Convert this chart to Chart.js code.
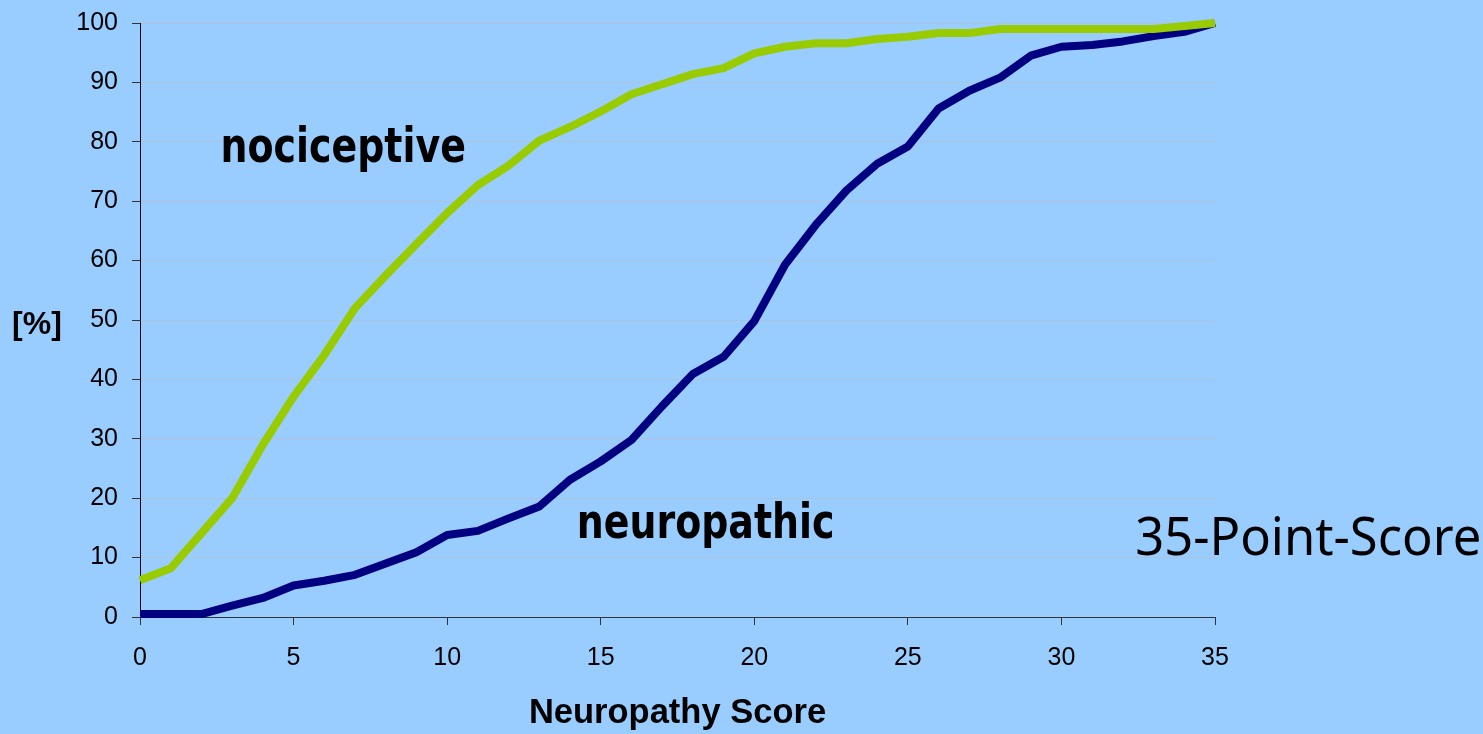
<!DOCTYPE html>
<html lang="en">
<head>
  <meta charset="UTF-8" />
  <title>Neuropathy Score</title>
  <script src="https://cdn.jsdelivr.net/npm/chart.js"></script>
  <style>
    html, body {
      margin: 0;
      background: #99ccff;
      overflow: hidden;
    }

    .wrap {
      width: 1483px;
      height: 734px;
    }
  </style>
</head>
<body>
  <div class="wrap">
    <canvas id="scoreChart"></canvas>
  </div>

  <script>
    // values (cumulative %, per score point)
    const scores = [0, 1, 2, 3, 4, 5, 6, 7, 8, 9, 10, 11, 12, 13, 14, 15, 16, 17,
      18, 19, 20, 21, 22, 23, 24, 25, 26, 27, 28, 29, 30, 31, 32, 33, 34, 35];
    const nociceptive = [6.2, 8.2, 14.1, 20.0, 29.0, 37.1, 44.1, 52.0, 57.5, 62.8,
      68.0, 72.7, 76.0, 80.2, 82.5, 85.1, 88.0, 89.7, 91.4, 92.4, 94.9, 96.0,
      96.6, 96.6, 97.3, 97.7, 98.3, 98.3, 99.0, 99.0, 99.0, 99.0, 99.0, 99.0, 99.5, 100];
    const neuropathic = [0.5, 0.5, 0.5, 1.9, 3.2, 5.3, 6.1, 7.1, 9.0, 10.9,
      13.8, 14.5, 16.6, 18.6, 23.1, 26.2, 29.8, 35.5, 40.9, 43.8, 49.8, 59.3,
      66.0, 71.8, 76.3, 79.2, 85.6, 88.6, 90.8, 94.5, 96.0, 96.3, 96.9, 97.8, 98.5, 100];
    const xTicks = [0, 5, 10, 15, 20, 25, 30, 35];
    const yTicks = [0, 10, 20, 30, 40, 50, 60, 70, 80, 90, 100];

    // text placed in data units: [text, x, y, font, x-stretch]
    const notes = [
      ['nociceptive', 2.62, 76.6, 'bold 48px "DejaVu Sans"', 0.79],
      ['neuropathic', 14.22, 13.3, 'bold 48px "DejaVu Sans"', 0.79],
      ['35-Point-Score', 32.4, 10.4, '52px "Noto Sans"', 0.975]
    ];

    const toPoints = (arr) => arr.map((v, i) => ({ x: scores[i], y: v }));

    const textPlugin = {
      id: 'texts',
      afterDraw(chart) {
        const c = chart.ctx;
        const xs = chart.scales.x;
        const ys = chart.scales.y;
        c.save();
        c.fillStyle = '#000';
        c.textBaseline = 'alphabetic';
        c.textAlign = 'left';
        notes.forEach(([txt, x, y, font, sx]) => {
          c.save();
          c.translate(xs.getPixelForValue(x), ys.getPixelForValue(y));
          c.scale(sx, 1);
          c.font = font;
          c.fillText(txt, 0, 0);
          c.restore();
        });
        // y title, not rotated
        c.font = 'bold 32px "Liberation Sans", Arial, sans-serif';
        c.textAlign = 'center';
        c.textBaseline = 'middle';
        c.fillText('[%]', 37, ys.getPixelForValue(49.2));
        c.restore();
      }
    };

    const ctx = document.getElementById('scoreChart').getContext('2d');
    const scoreChart = new Chart(ctx, {
      type: 'line',
      data: {
        datasets: [
          {
            label: 'nociceptive',
            data: toPoints(nociceptive),
            borderColor: '#99cc00',
            borderWidth: 8,
            pointRadius: 0,
            borderJoinStyle: 'round',
            clip: false
          },
          {
            label: 'neuropathic',
            data: toPoints(neuropathic),
            borderColor: '#000080',
            borderWidth: 8,
            pointRadius: 0,
            borderJoinStyle: 'round',
            clip: false
          }
        ]
      },
      options: {
        responsive: true,
        maintainAspectRatio: false,
        animation: false,
        layout: {
          padding: { left: 0, right: 268, top: 23, bottom: 0 }
        },
        plugins: {
          legend: { display: false },
          tooltip: { enabled: false }
        },
        scales: {
          x: {
            type: 'linear',
            min: 0,
            max: 35,
            afterFit(scale) {
              scale.height = 117;
              scale.paddingLeft = 0;
              scale.paddingRight = 0;
            },
            afterBuildTicks(scale) { scale.ticks = xTicks.map(v => ({ value: v })); },
            grid: {
              drawOnChartArea: false,
              tickLength: 8,
              tickColor: '#333'
            },
            border: { color: '#333', width: 1 },
            ticks: {
              color: '#000',
              padding: 18,
              maxRotation: 0,
              font: { family: '"Liberation Sans", Arial, sans-serif', size: 25 }
            },
            title: {
              display: true,
              text: 'Neuropathy Score',
              color: '#000',
              padding: 0,
              font: { family: '"Liberation Sans", Arial, sans-serif', size: 34.5, weight: 'bold' }
            }
          },
          y: {
            min: 0,
            max: 100,
            afterFit(scale) {
              scale.width = 140;
              scale.paddingTop = 0;
              scale.paddingBottom = 0;
            },
            afterBuildTicks(scale) { scale.ticks = yTicks.map(v => ({ value: v })); },
            grid: {
              color: '#abc3dc',
              lineWidth: 1,
              tickLength: 8,
              tickColor: '#333'
            },
            border: { color: '#000', width: 1 },
            ticks: {
              color: '#000',
              padding: 14,
              font: { family: '"Liberation Sans", Arial, sans-serif', size: 25 }
            }
          }
        }
      },
      plugins: [textPlugin]
    });
  </script>
</body>
</html>
